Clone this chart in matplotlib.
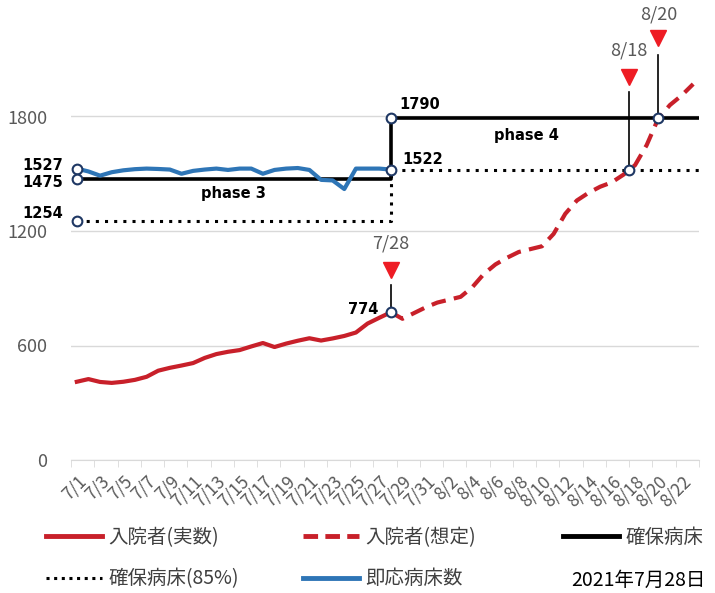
import numpy as np
import matplotlib
matplotlib.use("Agg")
import matplotlib.pyplot as plt
from matplotlib.lines import Line2D

plt.rcParams['font.family'] = ['Noto Sans CJK JP', 'DejaVu Sans']

# dates 7/1 .. 8/23
dates = [f"7/{d}" for d in range(1, 32)] + [f"8/{d}" for d in range(1, 24)]

# actual inpatients 7/1 .. 7/28
actual = [410, 424, 409, 404, 410, 420, 436, 468, 483, 495, 508, 535, 555, 567,
          576, 595, 613, 592, 610, 625, 638, 626, 637, 650, 668, 715, 745, 774]

# projected inpatients 7/28 .. 8/23
projected = [774, 740, 770, 800, 825, 840, 855, 905, 975, 1025, 1060, 1090, 1105,
             1120, 1185, 1290, 1360, 1400, 1432, 1455, 1495, 1545, 1650, 1790,
             1860, 1910, 1970]

# immediately available beds 7/1 .. 7/28
ready_beds = [1527, 1512, 1490, 1508, 1518, 1524, 1527, 1525, 1522, 1500, 1515,
              1522, 1527, 1520, 1527, 1527, 1500, 1520, 1527, 1530, 1520, 1468,
              1465, 1420, 1527, 1527, 1527, 1522]

# secured beds per phase
phase3_beds, phase4_beds = 1475, 1790
phase3_85, phase4_85 = 1254, 1522
switch_day = 27  # 7/28

n = len(dates)
secured = [phase3_beds if i < switch_day else phase4_beds for i in range(n)]
secured85 = [phase3_85 if i < switch_day else phase4_85 for i in range(n)]

# pins (day index, value, label)
pin_x = [27, 47.5, 50]
pin_y = [774, 1522, 1790]
pin_labels = ["7/28", "8/18", "8/20"]

red = "#c8202a"
blue = "#2e75b6"
navy = "#1f3864"
gray = "#595959"

fig = plt.figure(figsize=(7.15, 5.93), dpi=100)
ax = fig.add_axes([71 / 715, 1 - 460 / 593, 628 / 715, 458 / 593])

days = np.arange(n)
xs_ext = np.append(days, n - 0.5)

ax.plot(xs_ext, secured + [secured[-1]], color="black", lw=2.6,
        drawstyle="steps-post", zorder=3)
ax.plot(xs_ext, secured85 + [secured85[-1]], color="black", lw=2.2,
        ls=(0, (1, 2)), drawstyle="steps-post", zorder=3)
ax.plot(days[:len(ready_beds)], ready_beds, color=blue, lw=3, zorder=4)
ax.plot(days[:len(actual)], actual, color=red, lw=3, zorder=4,
        solid_joinstyle="round")
ax.plot(days[switch_day:switch_day + len(projected)], projected, color=red,
        lw=3, ls=(0, (3.5, 2)), zorder=4)

# circle markers
circ = dict(marker="o", ms=7, mfc="white", mec=navy, mew=1.5, ls="none", zorder=6)
ax.plot([0, 0, 0], [ready_beds[0], phase3_beds, phase3_85], **circ)
ax.plot([switch_day] * 3, [phase4_beds, phase4_85, actual[-1]], **circ)
ax.plot(pin_x[1:], pin_y[1:], **circ)

# pins with triangles
tri_y = [996, 2007, 2211]
line_top = [915, 1928, 2122]
text_y = [1132, 2148, 2337]
for x, y, lab, ty, lt, tx in zip(pin_x, pin_y, pin_labels, tri_y, line_top, text_y):
    ax.plot([x, x], [y, lt], color="black", lw=1.2, zorder=5)
    ax.plot([x], [ty], marker="v", ms=11, color="#ee1c24", ls="none", zorder=6)
    ax.text(x, tx, lab, ha="center", va="center", fontsize=13, color=gray)

# value labels
bold = dict(fontsize=10.5, fontweight="bold", color="black", va="center",
            family="DejaVu Sans")
ax.annotate(str(ready_beds[0]), (0, ready_beds[0]), xytext=(-10, 2),
            textcoords="offset points", ha="right", **bold)
ax.annotate(str(phase3_beds), (0, phase3_beds), xytext=(-10, -3),
            textcoords="offset points", ha="right", **bold)
ax.annotate(str(phase3_85), (0, phase3_85), xytext=(-10, 5),
            textcoords="offset points", ha="right", **bold)
ax.annotate(str(actual[-1]), (switch_day, actual[-1]), xytext=(-9, 2),
            textcoords="offset points", ha="right", **bold)
ax.annotate(str(phase4_beds), (switch_day, phase4_beds), xytext=(6, 10),
            textcoords="offset points", ha="left", **bold)
ax.annotate(str(phase4_85), (switch_day, phase4_85), xytext=(8, 7),
            textcoords="offset points", ha="left", **bold)
ax.text(13.5, 1394, "phase 3", ha="center", **bold)
ax.text(38.7, 1698, "phase 4", ha="center", **bold)

# axes
ax.set_xlim(-0.5, n - 0.5)
ax.set_ylim(0, 2400)
ax.set_yticks([0, 600, 1200, 1800])
ax.grid(axis="y", color="#d9d9d9", lw=1)
ax.set_axisbelow(True)
for s in ["top", "right", "left"]:
    ax.spines[s].set_visible(False)
ax.spines["bottom"].set_color("#d9d9d9")
ax.tick_params(axis="y", length=0, pad=17, labelsize=13, labelcolor=gray)
ax.set_xticks(days[::2])
ax.set_xticklabels(dates[::2], rotation=45, ha="right", rotation_mode="anchor",
                   fontsize=12.5, color=gray)
ax.set_xticks(np.arange(-0.5, n, 2), minor=True)
ax.tick_params(axis="x", which="major", length=0, pad=9)
ax.tick_params(axis="x", which="minor", length=5, color="#d9d9d9")

# legend
h_actual = Line2D([], [], color=red, lw=3.5)
h_proj = Line2D([], [], color=red, lw=3.5, ls=(0, (3, 1.5)))
h_sec = Line2D([], [], color="black", lw=3.5)
h_85 = Line2D([], [], color="black", lw=2.2, ls=(0, (1, 1.5)))
h_ready = Line2D([], [], color=blue, lw=3.5)
leg_kw = dict(frameon=False, fontsize=14, handlelength=2.9, handletextpad=0.3,
              labelspacing=1.05, labelcolor="#404040", loc="upper left",
              borderaxespad=0, borderpad=0)
top = 1 - 527 / 593
fig.legend([h_actual, h_85], ["入院者(実数)", "確保病床(85%)"],
           bbox_to_anchor=(46 / 715, top), **leg_kw)
fig.legend([h_proj, h_ready], ["入院者(想定)", "即応病床数"],
           bbox_to_anchor=(303 / 715, top), **leg_kw)
fig.legend([h_sec], ["確保病床"],
           bbox_to_anchor=(563 / 715, top), **leg_kw)
fig.text(706 / 715, 1 - 580 / 593, "2021年7月28日", ha="right", va="center",
         fontsize=14, color="black")

fig.savefig("out.png", dpi=100)
